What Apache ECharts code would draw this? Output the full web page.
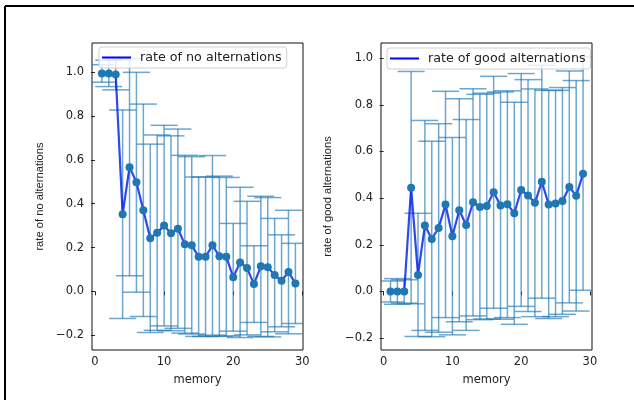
<!DOCTYPE html>
<html>
<head>
<meta charset="utf-8">
<script src="https://cdn.jsdelivr.net/npm/echarts@6/dist/echarts.min.js"></script>
<style>html,body{margin:0;padding:0;background:#fff}#c{width:634px;height:400px}</style>
</head>
<body>
<div id="c"></div>
<script>
const memory = [1,2,3,4,5,6,7,8,9,10,11,12,13,14,15,16,17,18,19,20,21,22,23,24,25,26,27,28,29];
const noAltMean = [0.995,0.995,0.99,0.352,0.567,0.498,0.37,0.242,0.268,0.30,0.265,0.286,0.215,0.21,0.158,0.158,0.21,0.16,0.158,0.064,0.132,0.106,0.033,0.114,0.11,0.074,0.048,0.088,0.036];
const noAltErr  = [0.04,0.06,0.07,0.476,0.496,0.502,0.485,0.43,0.446,0.458,0.445,0.455,0.406,0.405,0.364,0.364,0.41,0.366,0.362,0.246,0.343,0.305,0.175,0.32,0.318,0.259,0.21,0.282,0.183];
const goodMean = [0,0,0,0.445,0.071,0.283,0.225,0.272,0.373,0.237,0.348,0.285,0.382,0.362,0.366,0.425,0.368,0.374,0.335,0.435,0.411,0.38,0.47,0.373,0.377,0.388,0.448,0.41,0.505];
const goodErr  = [0.045,0.055,0.05,0.498,0.264,0.45,0.419,0.447,0.485,0.423,0.478,0.452,0.487,0.483,0.484,0.497,0.487,0.486,0.476,0.499,0.497,0.488,0.499,0.489,0.485,0.486,0.497,0.494,0.5];
const xTicks = [0,10,20,30];
const yTicks = [-0.2,0,0.2,0.4,0.6,0.8,1.0];
const labels = ['rate of no alternations','rate of good alternations'];

const fmt = v => (v < 0 ? '\u2212' : '') + Math.abs(v).toFixed(1);
const errColor = 'rgba(31,119,180,0.65)';
const tickFont = {fontFamily:'DejaVu Sans', fontSize:11.5, color:'#222'};

function errData(mean, err){ return memory.map((m,i)=>[m, mean[i]-err[i], mean[i]+err[i]]); }
function renderErr(params, api){
  const x = api.value(0);
  const lo = api.coord([x, api.value(1)]);
  const hi = api.coord([x, api.value(2)]);
  const hw = 13.5;
  const st = {stroke: errColor, lineWidth: 1.5};
  const cs = params.coordSys;
  return {type:'group',
    clipPath:{type:'rect', shape:{x:cs.x, y:cs.y, width:cs.width, height:cs.height}},
    children:[
      {type:'line', shape:{x1:lo[0],y1:lo[1],x2:hi[0],y2:hi[1]}, style:st},
      {type:'line', shape:{x1:lo[0]-hw,y1:lo[1],x2:lo[0]+hw,y2:lo[1]}, style:st},
      {type:'line', shape:{x1:hi[0]-hw,y1:hi[1],x2:hi[0]+hw,y2:hi[1]}, style:st}
    ]};
}
function xAx(idx, min, max){
  return {type:'value', gridIndex:idx, min:min, max:max,
    name:'memory', nameLocation:'middle', nameGap:24,
    nameTextStyle:{fontFamily:'DejaVu Sans', fontSize:11.5, color:'#222'},
    axisLine:{show:false}, splitLine:{show:false},
    axisTick:{show:true, length:4, lineStyle:{color:'#222'}, customValues:xTicks},
    axisLabel:Object.assign({margin:6, customValues:xTicks, formatter:v=>String(v)}, tickFont)};
}
function yAx(idx, min, max, name, gap){
  return {type:'value', gridIndex:idx, min:min, max:max,
    name:name, nameLocation:'middle', nameGap:gap,
    nameTextStyle:{fontFamily:'Liberation Sans', fontSize:11.2, color:'#222'},
    axisLine:{show:false}, splitLine:{show:false},
    axisTick:{show:true, length:4, lineStyle:{color:'#222'}, customValues:yTicks},
    axisLabel:Object.assign({margin:8, customValues:yTicks, formatter:fmt}, tickFont)};
}
function legend(idx, left, top){
  return {show:true, left:left, top:top, orient:'vertical',
    data:[{name:labels[idx], icon:'rect', itemStyle:{color:'#0000ff'}}],
    itemWidth:29, itemHeight:2, padding:[4,5,4,3],
    borderColor:'#d0d0d0', borderWidth:1, borderRadius:3, backgroundColor:'rgba(255,255,255,0.8)',
    textStyle:{fontFamily:'DejaVu Sans', fontSize:12.7, color:'#222', padding:[0,0,0,4]}};
}
function meanSeries(idx, mean){
  return {type:'line', name:labels[idx], xAxisIndex:idx, yAxisIndex:idx,
    data: memory.map((m,i)=>[m, mean[i]]), z:3,
    symbol:'circle', symbolSize:8, showSymbol:true,
    itemStyle:{color:'#1f77b4'},
    lineStyle:{color:'rgba(0,30,235,0.82)', width:2.2}, animation:false};
}

const chart = echarts.init(document.getElementById('c'), null, {renderer:'canvas'});
chart.setOption({
  animation:false,
  grid:[
    {left:92, top:43, width:211, height:307, show:true, borderColor:'#111', borderWidth:1, backgroundColor:'#fff'},
    {left:381, top:43, width:211, height:307, show:true, borderColor:'#111', borderWidth:1, backgroundColor:'#fff'}
  ],
  xAxis:[xAx(0,-0.43,30.1), xAx(1,-0.38,30.3)],
  yAxis:[yAx(0,-0.268,1.134,labels[0],47), yAx(1,-0.251,1.065,labels[1],48)],
  legend:[legend(0,99,47), legend(1,387,48)],
  graphic:[
    {type:'line', shape:{x1:5,y1:6,x2:640,y2:6}, style:{stroke:'#000', lineWidth:2}, z:100, silent:true},
    {type:'line', shape:{x1:5,y1:6,x2:5,y2:410}, style:{stroke:'#000', lineWidth:2}, z:100, silent:true}
  ],
  series:[
    {type:'custom', xAxisIndex:0, yAxisIndex:0, data:errData(noAltMean,noAltErr), renderItem:renderErr, encode:{x:0,y:[1,2]}, z:2},
    meanSeries(0, noAltMean),
    {type:'custom', xAxisIndex:1, yAxisIndex:1, data:errData(goodMean,goodErr), renderItem:renderErr, encode:{x:0,y:[1,2]}, z:2},
    meanSeries(1, goodMean)
  ]
});
</script>
</body>
</html>
